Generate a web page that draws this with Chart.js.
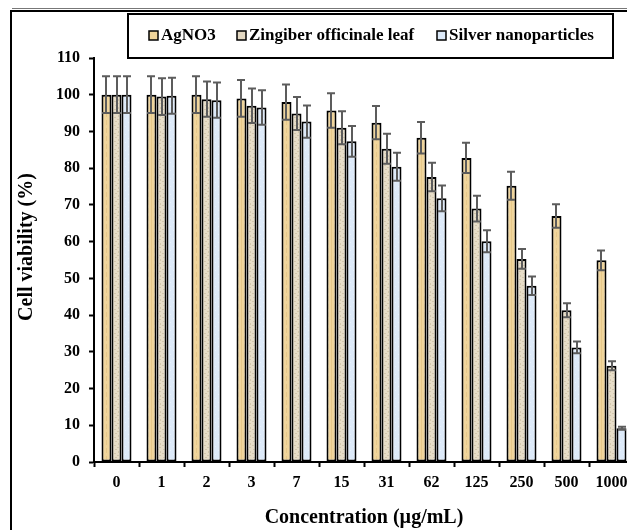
<!DOCTYPE html>
<html>
<head>
<meta charset="utf-8">
<script src="https://cdn.jsdelivr.net/npm/chart.js@4.4.1/dist/chart.umd.min.js"></script>
<style>
html,body{margin:0;padding:0;overflow:hidden;background:#fff;}
#wrap{position:absolute;left:0;top:0;width:640px;height:530px;}
</style>
</head>
<body>
<div id="wrap"><canvas id="c" width="640" height="530"></canvas></div>
<script>
const categories = ['0','1','2','3','7','15','31','62','125','250','500','1000'];
const seriesNames = ['AgNO3','Zingiber officinale leaf','Silver nanoparticles'];
const agno3 = [100,100,100,99,98,95.7,92.4,88.3,82.8,75.2,67,54.9];
const agno3Err = [5,5,5,5,4.8,4.7,4.5,4.3,4.1,3.8,3.2,2.7];
const zingiber = [100,99.5,98.8,97,94.9,91,85.3,77.6,69,55.3,41.3,26.2];
const zingiberErr = [5,5,4.8,4.7,4.5,4.5,4.1,3.9,3.5,2.7,1.9,1.2];
const silver = [100,99.7,98.5,96.5,92.7,87.3,80.4,71.8,60.1,48,31.2,9.2];
const silverErr = [5,4.9,4.8,4.7,4.4,4.2,3.8,3.5,3,2.5,1.6,0.4];
const yTicks = [0,10,20,30,40,50,60,70,80,90,100,110];
const xTitle = 'Concentration (µg/mL)';
const yTitle = 'Cell viability (%)';

const FONT = "'Liberation Serif','Times New Roman',serif";

function makePattern(base, streak, kind){
  const p = document.createElement('canvas');
  p.width = 6; p.height = 8;
  const g = p.getContext('2d');
  g.fillStyle = base; g.fillRect(0,0,6,8);
  g.fillStyle = streak;
  if(kind === 'v'){
    g.fillRect(1,0,1,8); g.fillRect(4,0,1,5);
  } else if(kind === 'd'){
    g.fillRect(1,1,2,1); g.fillRect(4,3,1,2); g.fillRect(0,5,2,1); g.fillRect(3,7,2,1);
  } else {
    g.fillRect(2,2,1,1); g.fillRect(5,6,1,1);
  }
  return document.getElementById('c').getContext('2d').createPattern(p,'repeat');
}
const fills = [
  makePattern('#F0D59C','#E6C88A','v'),
  makePattern('#E7DDC8','#D2C6AC','d'),
  makePattern('#DDEAF9','#E9F2FC','s')
];
const legendFills = ['#EFD49A','#E3D8C2','#DCE9F8'];
const values = [agno3, zingiber, silver];
const errors = [agno3Err, zingiberErr, silverErr];

const errorBars = {
  id:'errorBars',
  afterDatasetsDraw(chart){
    const ctx = chart.ctx, y = chart.scales.y;
    ctx.save();
    ctx.strokeStyle = '#5c5c5c';
    ctx.lineWidth = 2;
    chart.data.datasets.forEach((ds, i) => {
      const meta = chart.getDatasetMeta(i);
      meta.data.forEach((bar, j) => {
        const v = ds.data[j], e = ds.errors[j];
        const t = y.getPixelForValue(v + e), b = y.getPixelForValue(v - e);
        const x = Math.round(bar.x);
        ctx.beginPath();
        ctx.moveTo(x, t); ctx.lineTo(x, b);
        ctx.moveTo(x-4, t); ctx.lineTo(x+4, t);
        ctx.moveTo(x-4, b); ctx.lineTo(x+4, b);
        ctx.stroke();
      });
    });
    ctx.restore();
  }
};

const decor = {
  id:'decor',
  afterDraw(chart){
    const ctx = chart.ctx;
    ctx.save();
    // frame
    ctx.strokeStyle = '#000';
    ctx.lineWidth = 2;
    ctx.beginPath();
    ctx.moveTo(11, 530); ctx.lineTo(11, 11); ctx.lineTo(640, 11);
    ctx.stroke();
    ctx.strokeStyle = '#777'; ctx.lineWidth = 1;
    ctx.beginPath(); ctx.moveTo(12, 8.5); ctx.lineTo(640, 8.5); ctx.stroke();
    // legend box
    ctx.strokeStyle = '#000'; ctx.lineWidth = 2;
    ctx.fillStyle = '#fff';
    ctx.fillRect(128, 14, 485, 44);
    ctx.strokeRect(128, 14, 485, 44);
    const starts = [149, 237, 437];
    ctx.font = 'bold 17px ' + FONT;
    ctx.textBaseline = 'middle';
    chart.data.datasets.forEach((ds, i) => {
      const sx = starts[i];
      ctx.fillStyle = legendFills[i];
      ctx.fillRect(sx, 31, 9, 9);
      ctx.lineWidth = 1.5;
      ctx.strokeStyle = '#000';
      ctx.strokeRect(sx, 31, 9, 9);
      ctx.fillStyle = '#000';
      ctx.fillText(ds.label, sx + 12, 35.5);
    });
    // y title
    ctx.translate(27, 247);
    ctx.rotate(-Math.PI/2);
    ctx.font = 'bold 20px ' + FONT;
    ctx.textAlign = 'center';
    ctx.textBaseline = 'middle';
    ctx.fillStyle = '#000';
    ctx.fillText(yTitle, 0, 0);
    ctx.restore();
  }
};

new Chart(document.getElementById('c'), {
  type:'bar',
  data:{
    labels: categories,
    datasets: seriesNames.map((n, i) => ({
      label: n,
      data: values[i],
      errors: errors[i],
      backgroundColor: fills[i],
      borderColor: '#000',
      borderWidth: 2,
      borderSkipped: false
    }))
  },
  options:{
    responsive:false,
    animation:false,
    devicePixelRatio:1,
    layout:{padding:{top:58,right:6,left:0,bottom:0}},
    datasets:{bar:{barPercentage:1.0, categoryPercentage:0.667}},
    plugins:{legend:{display:false}, tooltip:{enabled:false}},
    scales:{
      x:{
        offset:true,
        grid:{display:true, offset:true, drawOnChartArea:false, drawTicks:true, tickLength:5, tickColor:'#000', tickWidth:2},
        border:{display:true, color:'#000', width:2},
        ticks:{color:'#000', font:{family:FONT, size:16, weight:'bold'}, padding:6, maxRotation:0, autoSkip:false},
        title:{display:true, text:xTitle, color:'#000', font:{family:FONT, size:20, weight:'bold'}, padding:{top:0,bottom:0}},
        afterFit(s){ s.height = 68; }
      },
      y:{
        min:0, max:110,
        afterBuildTicks(s){ s.ticks = yTicks.map(v => ({value:v})); },
        grid:{display:true, drawOnChartArea:false, drawTicks:true, tickLength:5, tickColor:'#000', tickWidth:2},
        border:{display:true, color:'#000', width:2},
        ticks:{color:'#000', font:{family:FONT, size:16, weight:'bold'}, padding:9},
        afterFit(s){ s.width = 94; }
      }
    }
  },
  plugins:[errorBars, decor]
});
</script>
</body>
</html>
